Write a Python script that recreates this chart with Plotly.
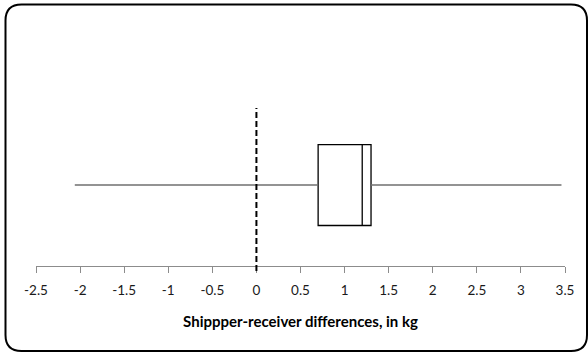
import plotly.graph_objects as go

# Five-number summary of shipper-receiver weight differences (kg)
lower_whisker = [-2.06]
q1 = [0.70]
median = [1.20]
q3 = [1.30]
upper_whisker = [3.46]

reference_value = 0.0
tick_values = [-2.5, -2, -1.5, -1, -0.5, 0, 0.5, 1, 1.5, 2, 2.5, 3, 3.5]
tick_labels = ["-2.5", "-2", "-1.5", "-1", "-0.5", "0", "0.5", "1", "1.5", "2", "2.5", "3", "3.5"]
axis_title = "Shippper-receiver differences, in kg"

W, H = 588, 353
ML, MR, MT, MB = 36, 23, 100, 87
PW, PH = W - ML - MR, H - MT - MB

fig = go.Figure()

# whiskers (gray), drawn as lines from the box edges to the extremes
fig.add_trace(go.Scatter(
    x=[lower_whisker[0], q1[0], None, q3[0], upper_whisker[0]],
    y=[0, 0, None, 0, 0],
    mode="lines",
    line=dict(color="#6f6f6f", width=1.6),
    hoverinfo="skip",
    showlegend=False,
))

# the box itself
fig.add_trace(go.Box(
    y=[0],
    q1=q1,
    median=median,
    q3=q3,
    lowerfence=q1,
    upperfence=q3,
    orientation="h",
    width=1.0,
    fillcolor="white",
    line=dict(color="black", width=1.3),
    boxpoints=False,
    showlegend=False,
))

# dashed reference line at zero
fig.add_shape(
    type="line", xref="x", yref="paper",
    x0=reference_value, x1=reference_value,
    y0=-5 / PH, y1=(H - MB - 108) / PH,
    line=dict(color="black", width=2, dash="6px,3px"),
    layer="above",
)

# rounded outer frame
def px_x(v):
    return (v - ML) / PW

def px_y(v):
    return (H - MB - v) / PH

L, R, T, B, r = 5.5, 587, 4.5, 351, 16
path = (
    f"M {px_x(L + r)},{px_y(T)} L {px_x(R - r)},{px_y(T)} "
    f"Q {px_x(R)},{px_y(T)} {px_x(R)},{px_y(T + r)} "
    f"L {px_x(R)},{px_y(B - r)} Q {px_x(R)},{px_y(B)} {px_x(R - r)},{px_y(B)} "
    f"L {px_x(L + r)},{px_y(B)} Q {px_x(L)},{px_y(B)} {px_x(L)},{px_y(B - r)} "
    f"L {px_x(L)},{px_y(T + r)} Q {px_x(L)},{px_y(T)} {px_x(L + r)},{px_y(T)} Z"
)
fig.add_shape(type="path", xref="paper", yref="paper", path=path,
              line=dict(color="black", width=2), layer="above")

fig.update_layout(
    width=W, height=H,
    margin=dict(l=ML, r=MR, t=MT, b=MB),
    paper_bgcolor="white",
    plot_bgcolor="white",
    font=dict(family="Lato, Liberation Sans, sans-serif", size=13, color="#222222"),
    xaxis=dict(
        range=[-2.5, 3.5],
        tickvals=tick_values,
        ticktext=tick_labels,
        showgrid=False,
        zeroline=False,
        showline=True,
        linecolor="#8c8c8c",
        linewidth=1,
        ticks="outside",
        ticklen=6,
        tickcolor="#8c8c8c",
        ticklabelstandoff=6,
        tickfont=dict(family="Lato", size=13.5, color="#1a1a1a"),
        title=dict(text=f"<b>{axis_title}</b>",
                   font=dict(family="Lato", size=15, color="black"), standoff=19),
        fixedrange=True,
    ),
    yaxis=dict(
        range=[-1, 1.05],
        visible=False,
        fixedrange=True,
    ),
)

fig.write_html("out.html")
